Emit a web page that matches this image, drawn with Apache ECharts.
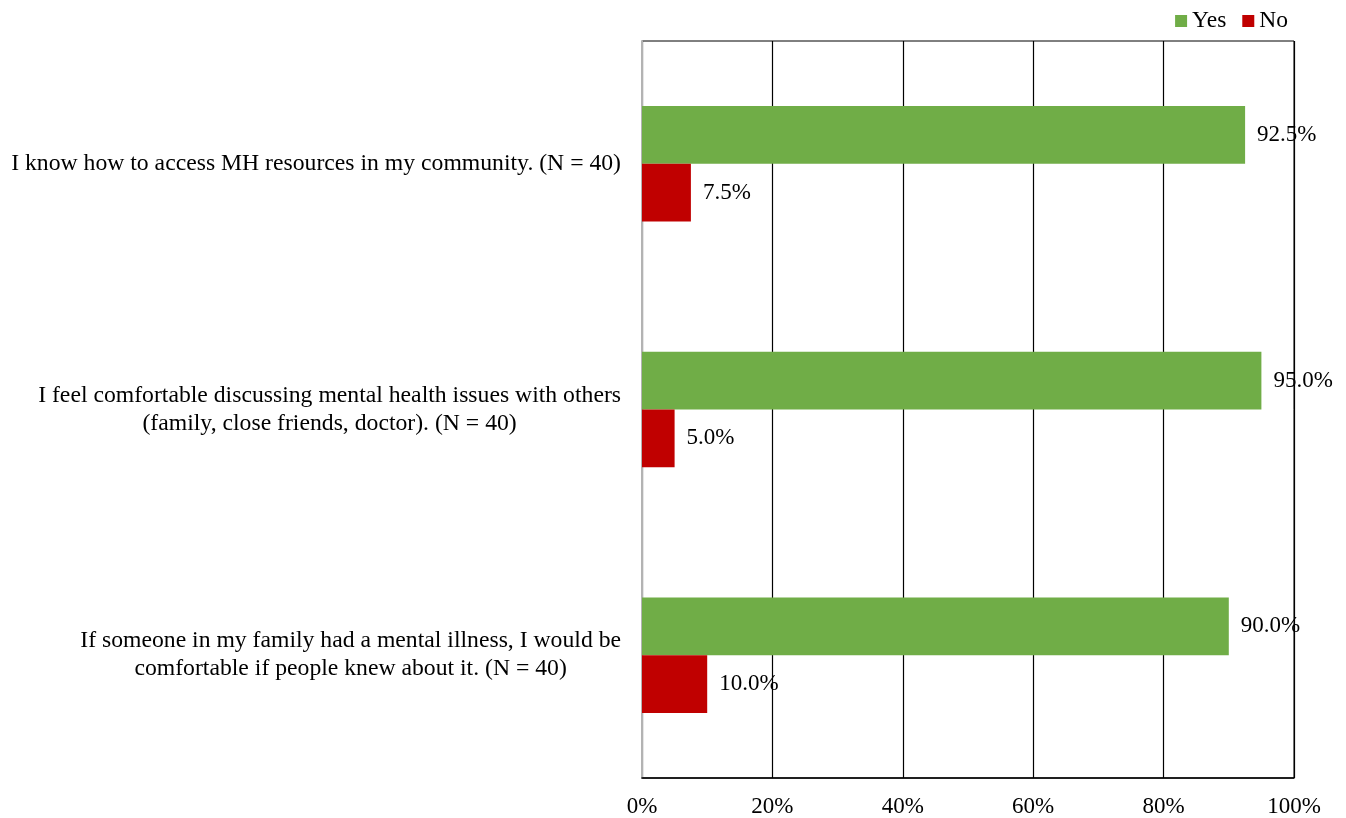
<!DOCTYPE html>
<html>
<head>
<meta charset="utf-8">
<script src="https://cdn.jsdelivr.net/npm/echarts@6/dist/echarts.min.js"></script>
<style>
  html, body { margin: 0; padding: 0; background: #fff; }
  #chart { width: 1346px; height: 818px; }
</style>
</head>
<body>
<div id="chart"></div>
<script>
// Survey statements (top to bottom)
const categories = [
  'I know how to access MH resources in my community. (N = 40)',
  'I feel comfortable discussing mental health issues with others\n(family, close friends, doctor). (N = 40)',
  'If someone in my family had a mental illness, I would be\ncomfortable if people knew about it. (N = 40)'
];
// Percent of respondents answering each way
const yesValues = [92.5, 95.0, 90.0];
const noValues = [7.5, 5.0, 10.0];
const xTicks = [0, 20, 40, 60, 80, 100];

const FONT = '"Liberation Serif", "Times New Roman", serif';
const FS = 23;
const CAT_FS = 23.7;

const chart = echarts.init(document.getElementById('chart'));

const valueLabel = {
  show: true,
  position: 'right',
  distance: 12,
  color: '#000',
  fontFamily: FONT,
  fontSize: FS,
  formatter: (p) => p.value.toFixed(1) + '%'
};

chart.setOption({
  animation: false,
  textStyle: { fontFamily: FONT },
  legend: {
    top: 4,
    right: 53,
    icon: 'rect',
    itemWidth: 12,
    itemHeight: 12,
    itemGap: 16,
    textStyle: { fontFamily: FONT, fontSize: 23.5, color: '#000' },
    data: ['Yes', 'No']
  },
  grid: {
    left: 642,
    right: 52,
    top: 41,
    bottom: 40,
    show: true,
    borderColor: '#000',
    borderWidth: 1
  },
  xAxis: {
    type: 'value',
    min: xTicks[0],
    max: xTicks[xTicks.length - 1],
    interval: xTicks[1] - xTicks[0],
    axisLine: { show: true, lineStyle: { color: '#000', width: 1.5 } },
    axisTick: { show: false },
    splitLine: { show: true, lineStyle: { color: '#000', width: 1.2 } },
    axisLabel: {
      margin: 17,
      color: '#000',
      fontFamily: FONT,
      fontSize: FS,
      formatter: '{value}%'
    }
  },
  yAxis: {
    type: 'category',
    inverse: true,
    data: categories,
    axisLine: { show: true, lineStyle: { color: '#b3b3b3', width: 2 } },
    axisTick: { show: false },
    splitLine: { show: false },
    axisLabel: {
      margin: 21,
      align: 'right',
      color: '#000',
      formatter: (v) => v.split('\n').map((l) => '{c|' + l + '}').join('\n'),
      rich: {
        c: {
          align: 'center',
          fontFamily: FONT,
          fontSize: CAT_FS,
          lineHeight: 28,
          color: '#000'
        }
      }
    }
  },
  series: [
    {
      name: 'Yes',
      type: 'bar',
      data: yesValues,
      barGap: '0%',
      barCategoryGap: '53%',
      itemStyle: { color: '#70AD47' },
      label: valueLabel
    },
    {
      name: 'No',
      type: 'bar',
      data: noValues,
      barGap: '0%',
      barCategoryGap: '53%',
      itemStyle: { color: '#C00000' },
      label: valueLabel
    }
  ]
});
</script>
</body>
</html>
